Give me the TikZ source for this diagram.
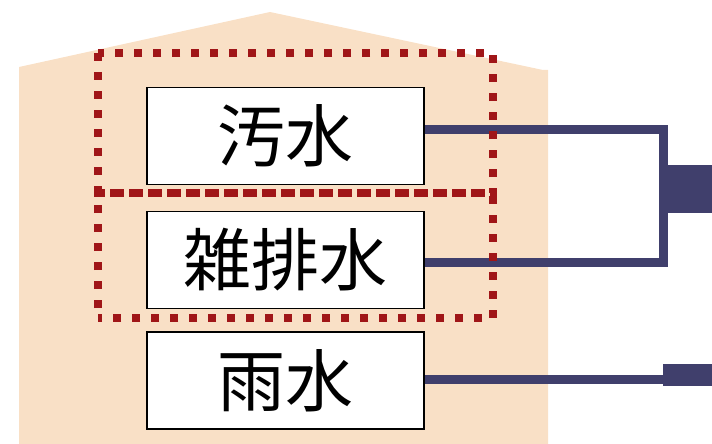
\documentclass[tikz,border=0pt]{standalone}
\usepackage{fontspec}
\newfontfamily\jpfont{Noto Sans CJK JP}
\definecolor{housefill}{RGB}{249,224,198}
\definecolor{pipecol}{RGB}{64,63,108}
\definecolor{dotred}{RGB}{160,22,24}
\tikzset{
  wbox/.style={draw=black, line width=1.8pt, fill=white, minimum width=277pt, minimum height=97pt, inner sep=0pt, font=\jpfont\fontsize{68}{68}\selectfont},
  pipe/.style={draw=pipecol, line width=9pt, line join=miter},
  pipeblock/.style={fill=pipecol, draw=none},
  dotframe/.style={draw=dotred, line width=8pt, dash pattern=on 8pt off 11pt}
}
\begin{document}
\begin{tikzpicture}[x=1pt,y=-1pt]
\useasboundingbox (0,0) rectangle (712,444);
% house
\fill[housefill] (19,444) -- (19,67) -- (270,12) -- (543,70) -- (548,70) -- (548,444) -- cycle;
% boxes
\node[wbox] (wb) at (285.5,136) {汚水};
\node[wbox] (gb) at (285.5,260) {雑排水};
\node[wbox] (rb) at (285.5,380.5) {雨水};
% pipes
\coordinate (j1) at (663.5,129.5);
\coordinate (j2) at (663.5,262.5);
\coordinate (j3) at (663.5,379);
\draw[pipe] (wb.east |- j1) -- (j1) -- (j2) -- (gb.east |- j2);
\draw[pipe] (rb.east |- j3) -- (j3);
\fill[pipeblock] (663,165) rectangle (712,213);
\fill[pipeblock] (663,364) rectangle (712,386);
\node[wbox] at (wb) {汚水};
\node[wbox] at (gb) {雑排水};
\node[wbox] at (rb) {雨水};
% dotted frames
\coordinate (f1) at (98,53);
\coordinate (f2) at (493,193);
\coordinate (f3) at (98,318);
\draw[dotframe] (f1) rectangle (f2);
\draw[dotframe,dash phase=9pt] (f3) rectangle (f2);
\end{tikzpicture}
\end{document}
